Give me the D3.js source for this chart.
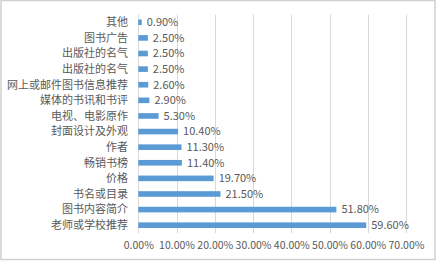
<!DOCTYPE html>
<html><head><meta charset="utf-8">
<script src="https://cdn.jsdelivr.net/npm/d3@7"></script>
<style>html,body{margin:0;padding:0;background:#fff;}svg{display:block;}</style>
</head><body>
<script>
const categories = ["其他","图书广告","出版社的名气","出版社的名气","网上或邮件图书信息推荐","媒体的书讯和书评","电视、电影原作","封面设计及外观","作者","畅销书榜","价格","书名或目录","图书内容简介","老师或学校推荐"];
const values = [0.9,2.5,2.5,2.5,2.6,2.9,5.3,10.4,11.3,11.4,19.7,21.5,51.8,59.6];
const tickValues = [0,10,20,30,40,50,60,70];

(function(){
const W=437,H=262;
const svg=d3.select("body").append("svg").attr("width",W).attr("height",H);
svg.append("rect").attr("x",0).attr("y",0).attr("width",W).attr("height",H).attr("fill","#fff");
svg.append("rect").attr("x",1).attr("y",0.5).attr("width",434).attr("height",259).attr("fill","none").attr("stroke","#d0d0d0").attr("stroke-width",1.5);
const pl=138.3,pr=406,pt=14.5,pb=233;
const x=d3.scaleLinear().domain([0,70]).range([pl,pr]);
const idx=d3.range(categories.length);
const y=d3.scaleBand().domain(idx).range([pt,pb]).paddingInner(0.64).paddingOuter(0.32);
const font="'Microsoft YaHei','Noto Sans CJK SC',sans-serif";
svg.append("g").selectAll("line").data(tickValues.slice(1)).join("line")
 .attr("x1",d=>Math.round(x(d))+0.5).attr("x2",d=>Math.round(x(d))+0.5)
 .attr("y1",pt).attr("y2",pb).attr("stroke","#d9d9d9").attr("stroke-width",1);
const ax=d3.axisBottom(x).tickValues(tickValues).tickFormat(d=>d.toFixed(2)+"%").tickSize(0).tickPadding(9);
const g=svg.append("g").attr("transform",`translate(0,${pb})`).call(ax);
g.select(".domain").remove();
g.selectAll("text").attr("fill","#595959").style("font-family",font).style("font-size","10.5px");
svg.append("line").attr("x1",Math.round(pl)+0.5).attr("x2",Math.round(pl)+0.5).attr("y1",pt).attr("y2",pb).attr("stroke","#d9d9d9");
svg.append("g").selectAll("rect").data(idx).join("rect")
 .attr("x",x(0)).attr("y",i=>y(i)).attr("width",i=>x(values[i])-x(0)).attr("height",y.bandwidth())
 .attr("fill","#5b9bd5");
svg.append("g").selectAll("text").data(idx).join("text")
 .attr("x",128).attr("y",i=>y(i)+y.bandwidth()/2).attr("dy","0.35em").attr("text-anchor","end")
 .attr("fill","#595959").style("font-family",font).style("font-size","11px").text(i=>categories[i]);
svg.append("g").selectAll("text").data(idx).join("text")
 .attr("x",i=>x(values[i])+5).attr("y",i=>y(i)+y.bandwidth()/2).attr("dy","0.35em")
 .attr("fill","#595959").style("font-family",font).style("font-size","11px").text(i=>values[i].toFixed(2)+"%");
})();
</script>
</body></html>
